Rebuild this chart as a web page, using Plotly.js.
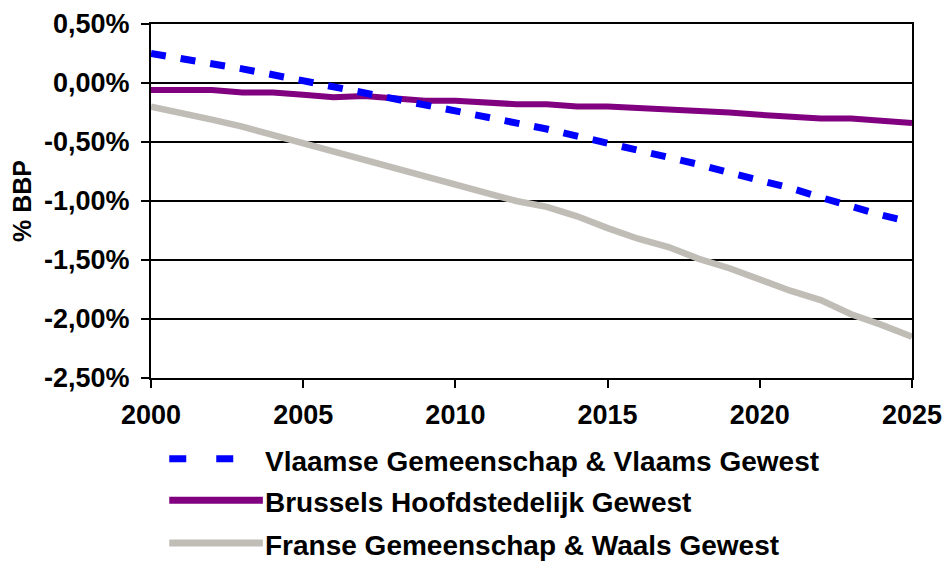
<!DOCTYPE html>
<html>
<head>
<meta charset="utf-8">
<script src="https://cdn.plot.ly/plotly-3.0.1.min.js"></script>
<style>html,body{margin:0;padding:0;background:#fff;}#chart{width:943px;height:561px;}</style>
</head>
<body>
<div id="chart"></div>
<script>
const years = [2000,2001,2002,2003,2004,2005,2006,2007,2008,2009,2010,2011,2012,2013,2014,2015,2016,2017,2018,2019,2020,2021,2022,2023,2024,2025];
const vlaams = [0.25,0.21,0.17,0.12,0.07,0.02,-0.04,-0.09,-0.14,-0.19,-0.24,-0.29,-0.34,-0.39,-0.45,-0.51,-0.56,-0.62,-0.69,-0.76,-0.82,-0.89,-0.97,-1.05,-1.12,-1.18];
const brussel = [-0.06,-0.06,-0.06,-0.08,-0.08,-0.10,-0.12,-0.11,-0.13,-0.15,-0.15,-0.17,-0.18,-0.18,-0.20,-0.20,-0.21,-0.23,-0.23,-0.25,-0.27,-0.29,-0.30,-0.30,-0.32,-0.34];
const franse = [-0.20,-0.25,-0.31,-0.37,-0.44,-0.51,-0.58,-0.65,-0.72,-0.79,-0.85,-0.93,-1.00,-1.05,-1.13,-1.23,-1.32,-1.39,-1.49,-1.57,-1.67,-1.76,-1.84,-1.96,-2.05,-2.15];
const seriesNames = ["Vlaamse Gemeenschap & Vlaams Gewest","Brussels Hoofdstedelijk Gewest","Franse Gemeenschap & Waals Gewest"];
const yTickVals = [0.5,0,-0.5,-1,-1.5,-2,-2.5];
const yTickText = ["0,50%","0,00%","-0,50%","-1,00%","-1,50%","-2,00%","-2,50%"];
const xTickVals = [2000,2005,2010,2015,2020,2025];
const yTitle = "% BBP";

const colors = ["#0000FF","#800080","#BFBDB5"];
const FONT = "Liberation Sans, Arial, sans-serif";

const traces = [
  {x: years, y: franse, name: seriesNames[2], mode: "lines", line: {color: colors[2], width: 6.5}},
  {x: years, y: brussel, name: seriesNames[1], mode: "lines", line: {color: colors[1], width: 6}},
  {x: years, y: vlaams, name: seriesNames[0], mode: "lines", line: {color: colors[0], width: 7, dash: "15px,15px"}}
];

// custom legend (shapes + text) placed in paper coordinates below the plot
const legRows = [-0.228, -0.345, -0.466];
const legDash = ["17px,30px", "solid", "solid"];
const legEnd = [0.11, 0.147, 0.147];
const shapes = [];
const annotations = [];
for (let i = 0; i < 3; i++) {
  shapes.push({type: "line", xref: "paper", yref: "paper", x0: 0.024, x1: legEnd[i], y0: legRows[i], y1: legRows[i],
    line: {color: colors[i], width: 7, dash: legDash[i]}});
  annotations.push({xref: "paper", yref: "paper", x: 0.147, y: legRows[i] - 0.008, xanchor: "left", yanchor: "middle",
    showarrow: false, text: seriesNames[i], font: {family: FONT, size: 28, color: "#000", weight: "bold"}});
}

const layout = {
  width: 943, height: 561,
  margin: {l: 151, r: 31, t: 24, b: 183},
  paper_bgcolor: "#fff", plot_bgcolor: "#fff",
  showlegend: false,
  font: {family: FONT, size: 28, color: "#000", weight: "bold"},
  xaxis: {
    range: [2000, 2025], tickvals: xTickVals, ticks: "outside", ticklen: 8, tickwidth: 2, tickcolor: "#000",
    showline: true, linecolor: "#000", linewidth: 2, mirror: true, showgrid: false, zeroline: false,
    ticklabelstandoff: 4,
    tickfont: {family: FONT, size: 27, color: "#000", weight: "bold"}
  },
  yaxis: {
    range: [-2.5, 0.5], tickvals: yTickVals, ticktext: yTickText, ticks: "outside", ticklen: 8, tickwidth: 2, tickcolor: "#000",
    showline: true, linecolor: "#000", linewidth: 2, mirror: true, showgrid: true, gridcolor: "#000", gridwidth: 1.5,
    zeroline: false, automargin: false, ticklabelstandoff: 6,
    tickfont: {family: FONT, size: 27, color: "#000", weight: "bold"},
    title: {text: yTitle, standoff: 5, font: {family: FONT, size: 25, color: "#000", weight: "bold"}}
  },
  shapes: shapes,
  annotations: annotations
};

Plotly.newPlot("chart", traces, layout, {displayModeBar: false, staticPlot: true});
</script>
</body>
</html>
